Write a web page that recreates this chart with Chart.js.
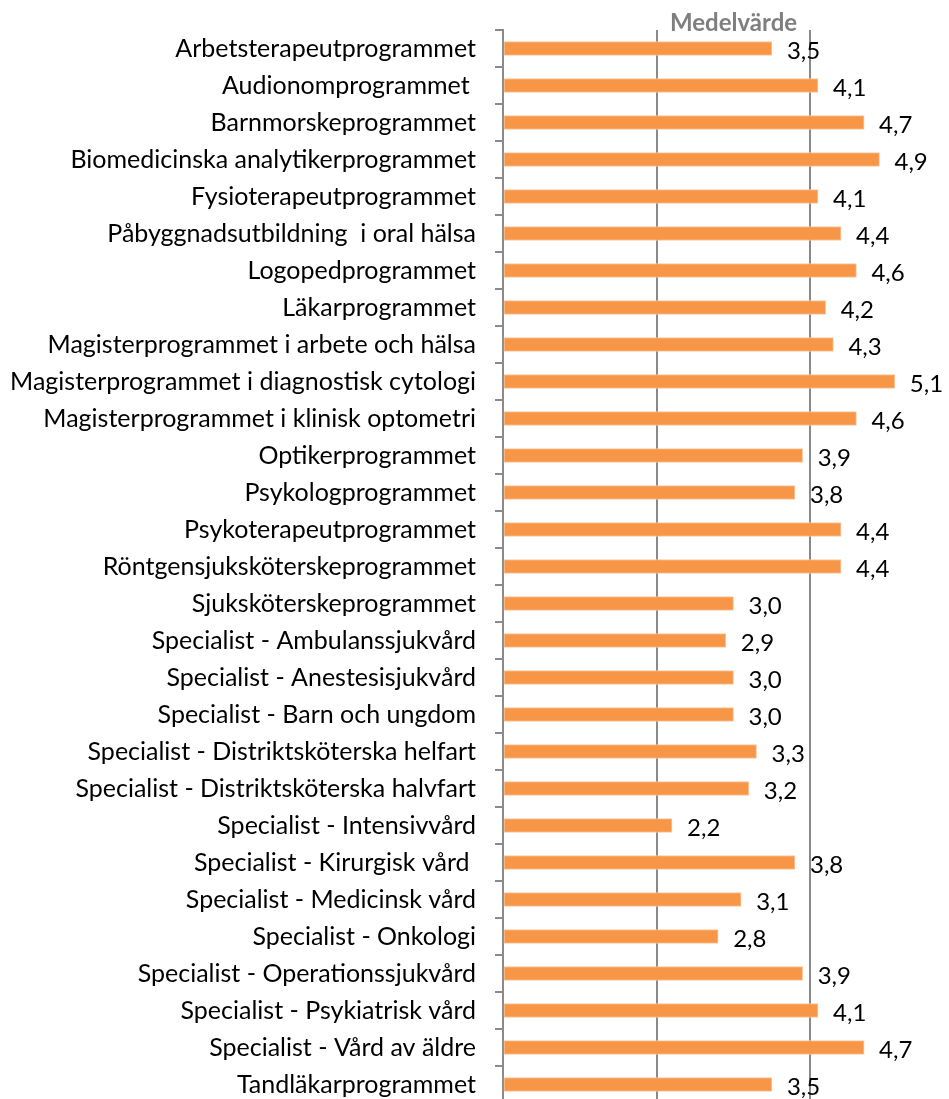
<!DOCTYPE html>
<html>
<head>
<meta charset="utf-8">
<script src="https://cdn.jsdelivr.net/npm/chart.js@4/dist/chart.umd.min.js"></script>
<style>
  html, body { margin: 0; padding: 0; background: #fff; overflow: hidden; }
  #wrap { width: 949px; height: 1099px; overflow: hidden; }
  #box { width: 964px; height: 1141px; margin-top: -4px; }
</style>
</head>
<body>
<div id="wrap"><div id="box"><canvas id="chart"></canvas></div></div>
<script>
// --- données ---
const programs = [
  "Arbetsterapeutprogrammet",
  "Audionomprogrammet ",
  "Barnmorskeprogrammet",
  "Biomedicinska analytikerprogrammet",
  "Fysioterapeutprogrammet",
  "Påbyggnadsutbildning  i oral hälsa",
  "Logopedprogrammet",
  "Läkarprogrammet",
  "Magisterprogrammet i arbete och hälsa",
  "Magisterprogrammet i diagnostisk cytologi",
  "Magisterprogrammet i klinisk optometri",
  "Optikerprogrammet",
  "Psykologprogrammet",
  "Psykoterapeutprogrammet",
  "Röntgensjuksköterskeprogrammet",
  "Sjuksköterskeprogrammet",
  "Specialist - Ambulanssjukvård",
  "Specialist - Anestesisjukvård",
  "Specialist - Barn och ungdom",
  "Specialist - Distriktsköterska helfart",
  "Specialist - Distriktsköterska halvfart",
  "Specialist - Intensivvård",
  "Specialist - Kirurgisk vård ",
  "Specialist - Medicinsk vård",
  "Specialist - Onkologi",
  "Specialist - Operationssjukvård",
  "Specialist - Psykiatrisk vård",
  "Specialist - Vård av äldre",
  "Tandläkarprogrammet"
];
const medelvarde = [3.5, 4.1, 4.7, 4.9, 4.1, 4.4, 4.6, 4.2, 4.3, 5.1, 4.6, 3.9, 3.8, 4.4, 4.4,
  3.0, 2.9, 3.0, 3.0, 3.3, 3.2, 2.2, 3.8, 3.1, 2.8, 3.9, 4.1, 4.7, 3.5];
const xTicks = [0, 2, 4, 6];

const FONT = "Lato, 'Open Sans', sans-serif";
const GRID = '#8a8a8a';

// étiquettes de valeur à droite des barres
const valueLabels = {
  id: 'valueLabels',
  afterDatasetsDraw(chart) {
    const ctx = chart.ctx;
    const meta = chart.getDatasetMeta(0);
    ctx.save();
    ctx.font = "24px " + FONT;
    ctx.fillStyle = '#000';
    ctx.textAlign = 'left';
    ctx.textBaseline = 'middle';
    meta.data.forEach((bar, i) => {
      const txt = medelvarde[i].toFixed(1).replace('.', ',');
      ctx.fillText(txt, bar.x + 15, bar.y + 3);
    });
    ctx.restore();
  }
};

new Chart(document.getElementById('chart'), {
  type: 'bar',
  data: {
    labels: programs,
    datasets: [{
      data: medelvarde,
      backgroundColor: '#F79646',
      borderColor: '#FBC9A2',
      borderWidth: 1,
      borderSkipped: false,
      barThickness: 14
    }]
  },
  options: {
    indexAxis: 'y',
    responsive: true,
    maintainAspectRatio: false,
    animation: false,
    layout: { padding: 0 },
    plugins: { legend: { display: false }, tooltip: { enabled: false } },
    scales: {
      x: {
        position: 'top',
        min: 0, max: 6,
        afterBuildTicks: (s) => { s.ticks = xTicks.map(v => ({ value: v })); },
        afterFit: (s) => { s.height = 31; },
        ticks: { display: false },
        grid: { color: GRID, lineWidth: 2, drawTicks: false },
        border: { display: false },
        title: {
          display: true,
          text: 'Medelvärde',
          color: '#7f7f7f',
          font: { family: FONT, size: 24, weight: 'bold' },
          padding: { top: 10, bottom: 0 }
        }
      },
      y: {
        afterFit: (s) => { s.width = 503; },
        grid: { offset: true, drawOnChartArea: false, drawTicks: true, tickLength: 8, color: GRID, lineWidth: 2 },
        border: { display: true, color: GRID, width: 2 },
        ticks: {
          color: '#000',
          padding: 19,
          autoSkip: false,
          font: { family: FONT, size: 25 }
        }
      }
    }
  },
  plugins: [valueLabels]
});
</script>
</body>
</html>
